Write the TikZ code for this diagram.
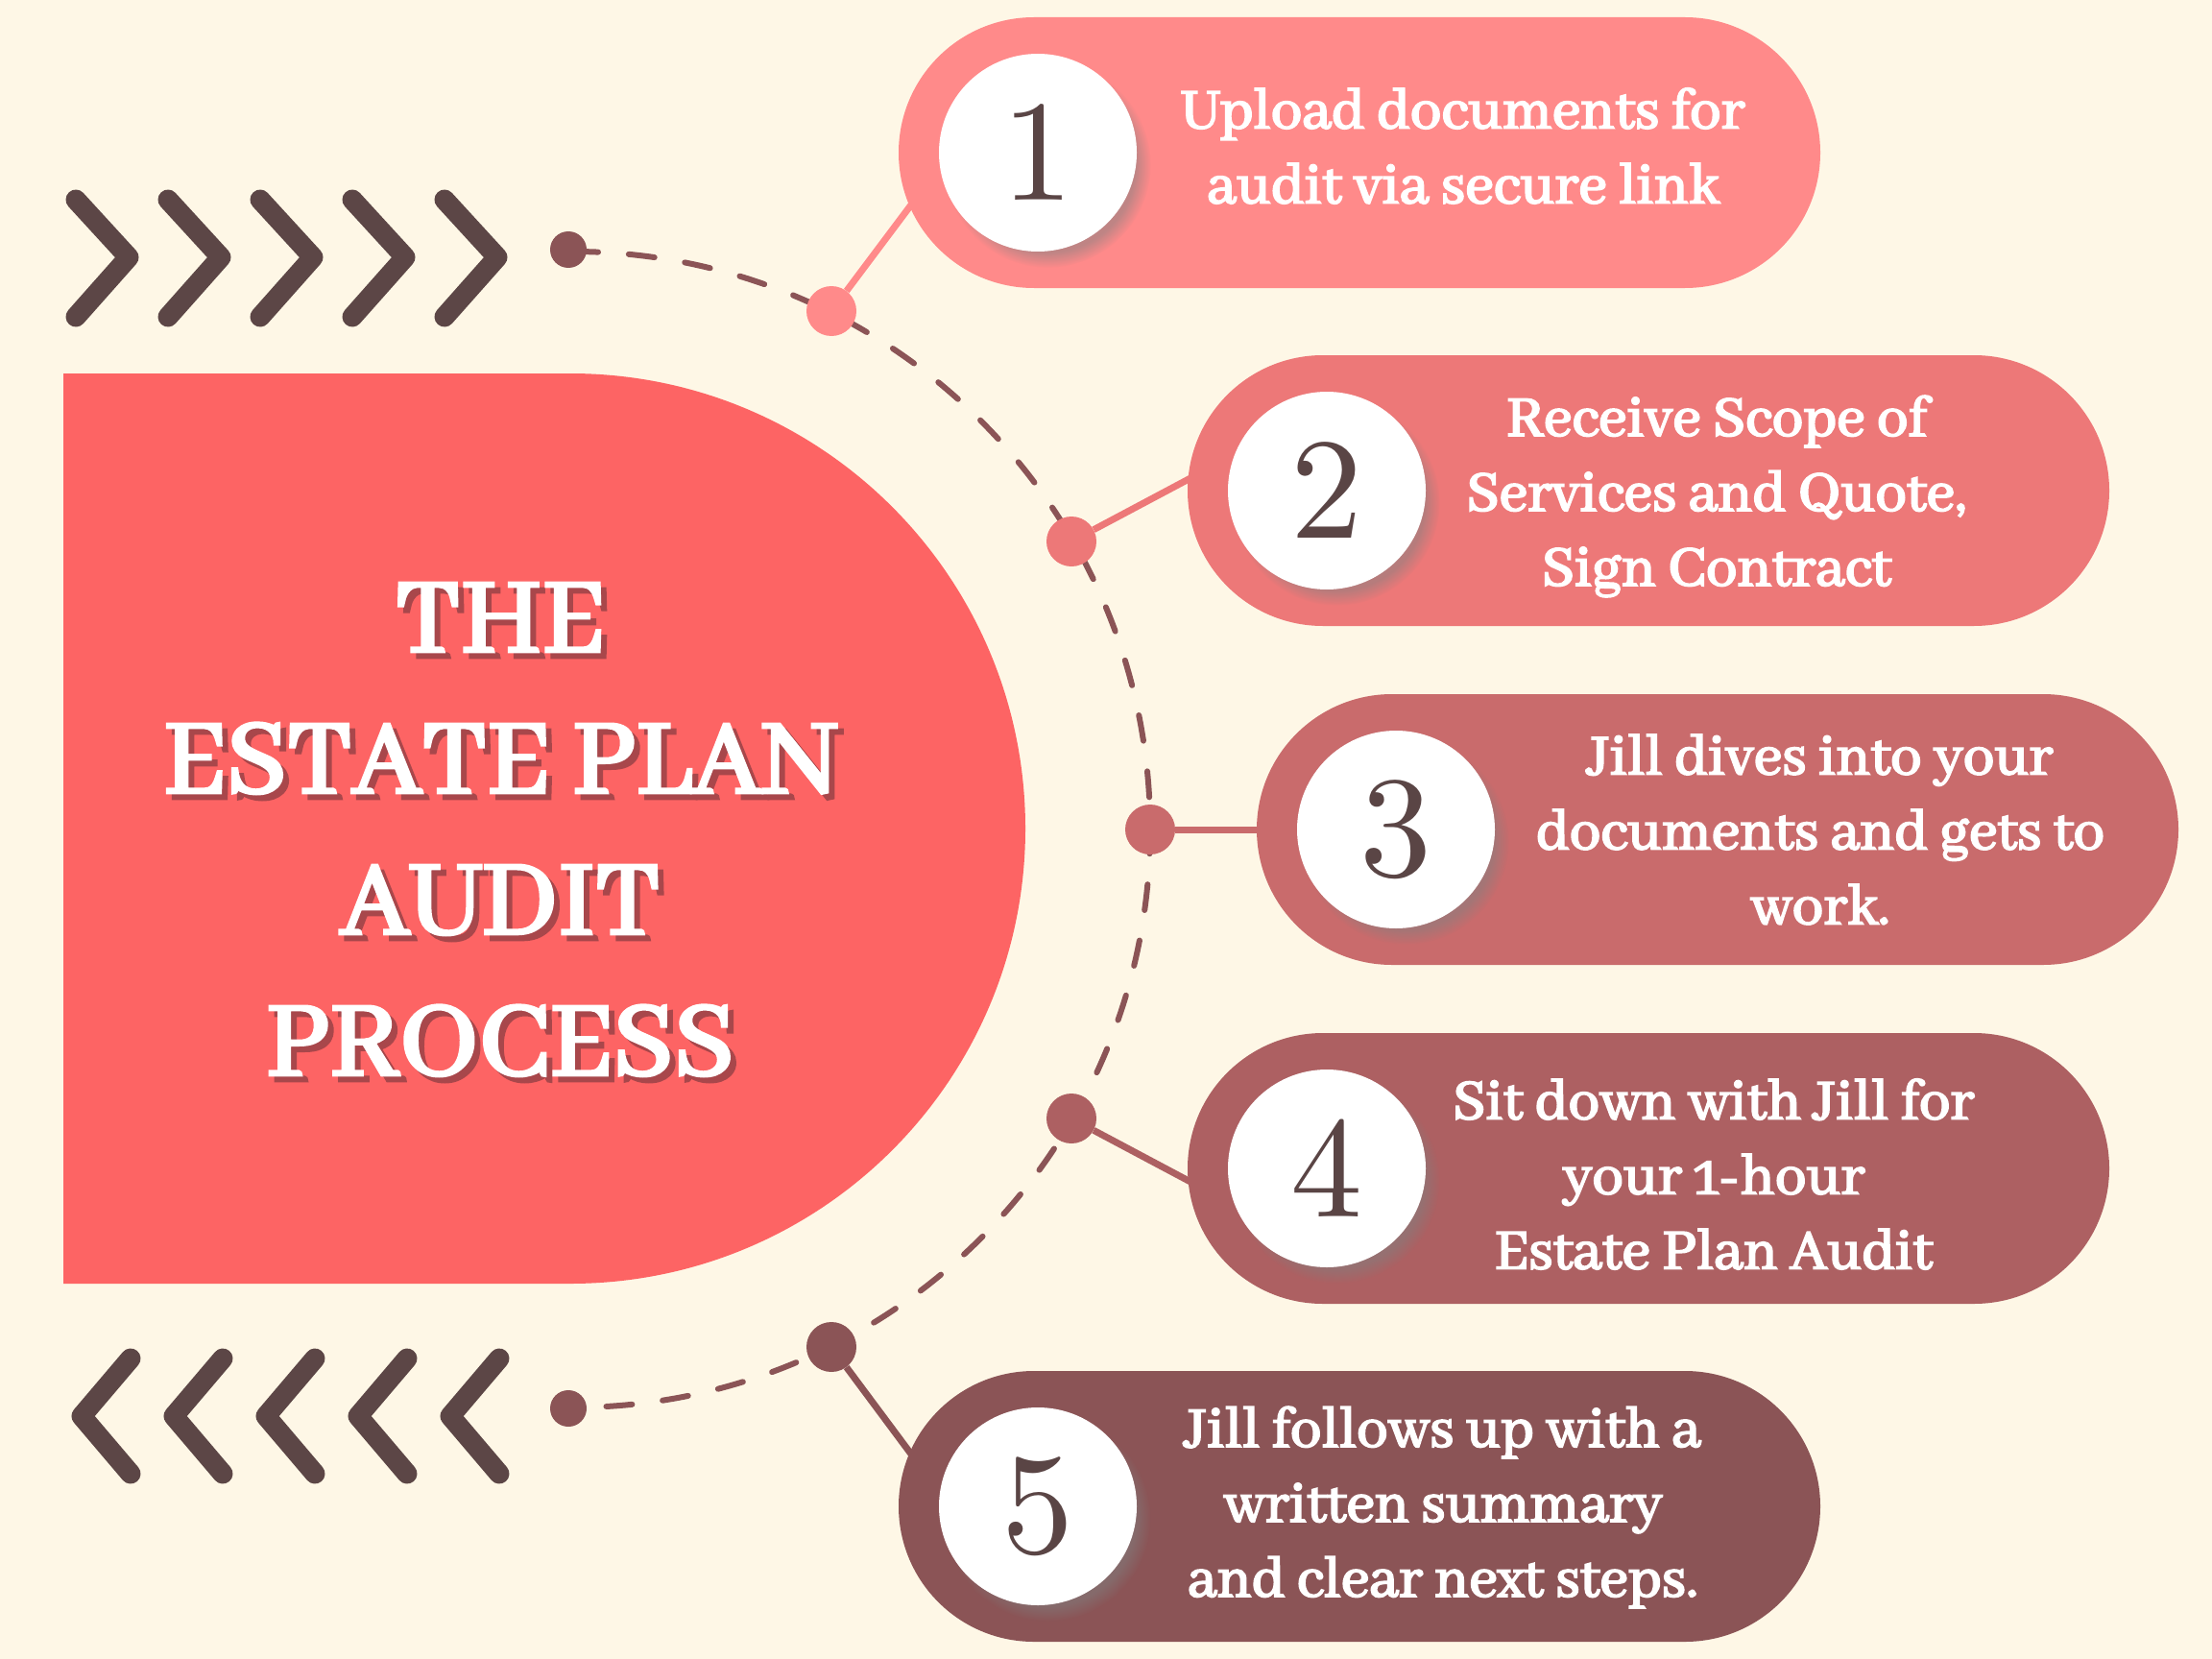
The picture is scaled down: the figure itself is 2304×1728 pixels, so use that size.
\documentclass[tikz,border=0pt]{standalone}
\usepackage{fontspec}
\usetikzlibrary{shapes.misc,shadows,fadings}
\setmainfont{Abhaya Libre}[AutoFakeBold=3.2]
\newfontfamily\numfont{lmroman10-regular}[Extension=.otf]
\definecolor{bgc}{HTML}{FEF7E6}
\definecolor{bigc}{HTML}{FD6464}
\definecolor{p1c}{HTML}{FF8A8A}
\definecolor{p2c}{HTML}{ED7878}
\definecolor{p3c}{HTML}{C96B6C}
\definecolor{p4c}{HTML}{AD6062}
\definecolor{p5c}{HTML}{8B5456}
\definecolor{chevc}{HTML}{5C4646}
\definecolor{numc}{HTML}{5A4545}
\definecolor{shadc}{HTML}{A8474B}
\tikzset{
  pill/.style={rounded rectangle, minimum width=960pt, minimum height=282pt, inner sep=0pt},
  numcirc/.style={circle, fill=white, minimum size=206pt, inner sep=0pt,
    font=\numfont\fontsize{150}{150}\selectfont, text=numc,
    circular drop shadow={shadow xshift=10pt, shadow yshift=-12pt, shadow scale=1.04, opacity=0.5}},
  stepdot/.style={circle, minimum size=52pt, inner sep=0pt},
  enddot/.style={circle, fill=p5c, minimum size=38pt, inner sep=0pt},
  conn/.style={line width=7pt},
  arcline/.style={p5c, line width=6pt, line cap=round, dash pattern=on 27pt off 32pt},
  chev/.style={chevc, line width=21pt, line cap=round, line join=round},
  steptxt/.style={text=white, align=center, font=\bfseries\fontsize{65}{78}\selectfont},
  titletxt/.style={align=center, font=\bfseries\fontsize{121}{147}\selectfont}
}
\begin{document}
\begin{tikzpicture}[x=1pt,y=-1pt]
\fill[bgc] (0,0) rectangle (2304,1728);
\useasboundingbox (0,0) rectangle (2304,1728);
% big half-round panel
\fill[bigc] (66,389) -- (594,389) arc[start angle=-90, end angle=90, radius=474] -- (66,1337) -- cycle;
% title
\node[titletxt, text=shadc] (titleshadow) at (527,870) {THE\\ESTATE PLAN\\AUDIT\\PROCESS};
\node[titletxt, text=white] (title) at (521,864) {THE\\ESTATE PLAN\\AUDIT\\PROCESS};
% chevrons
\foreach \i in {0,...,4}{
  \draw[chev] ({79+96*\i},208) -- ({134+96*\i},268) -- ({79+96*\i},330);
  \draw[chev] ({136+96*\i},1415) -- ({85+96*\i},1475) -- ({136+96*\i},1535);
}
% dashed arc
\draw[arcline] (596,262) arc[start angle=-90, end angle=90, radius=602];
\node[enddot] (top) at (592,260) {};
\node[enddot] (bot) at (592,1467) {};
% step dots
\node[stepdot, fill=p1c] (d1) at (866,324) {};
\node[stepdot, fill=p2c] (d2) at (1116,564) {};
\node[stepdot, fill=p3c] (d3) at (1198,864) {};
\node[stepdot, fill=p4c] (d4) at (1116,1165) {};
\node[stepdot, fill=p5c] (d5) at (866,1403) {};
\coordinate (e1) at (962,196);
\coordinate (e2) at (1257,489);
\coordinate (e3) at (1330,864);
\coordinate (e4) at (1257,1240);
\coordinate (e5) at (962,1532);
\draw[conn, p1c] (d1) -- (e1);
\draw[conn, p2c] (d2) -- (e2);
\draw[conn, p3c] (d3) -- (e3);
\draw[conn, p4c] (d4) -- (e4);
\draw[conn, p5c] (d5) -- (e5);
% pills
\node[pill, fill=p1c] (p1) at (1416,159) {};
\node[pill, fill=p2c] (p2) at (1717,511) {};
\node[pill, fill=p3c] (p3) at (1789,864) {};
\node[pill, fill=p4c] (p4) at (1717,1217) {};
\node[pill, fill=p5c] (p5) at (1416,1569) {};
% number circles
\node[numcirc] (n1) at (1081,159) {1};
\node[numcirc] (n2) at (1382,511) {2};
\node[numcirc] (n3) at (1454,864) {3};
\node[numcirc] (n4) at (1382,1217) {4};
\node[numcirc] (n5) at (1081,1569) {5};
% step texts
\node[steptxt] (t1) at (1524,152) {Upload documents for\\audit via secure link};
\node[steptxt] (t2) at (1788,517) {Receive Scope of\\Services and Quote,\\Sign Contract};
\node[steptxt] (t3) at (1896,864) {Jill dives into your\\documents and gets to\\work.};
\node[steptxt] (t4) at (1785,1223) {Sit down with Jill for\\your 1-hour\\Estate Plan Audit};
\node[steptxt] (t5) at (1503,1570) {Jill follows up with a\\written summary\\and clear next steps.};
\end{tikzpicture}
\end{document}
